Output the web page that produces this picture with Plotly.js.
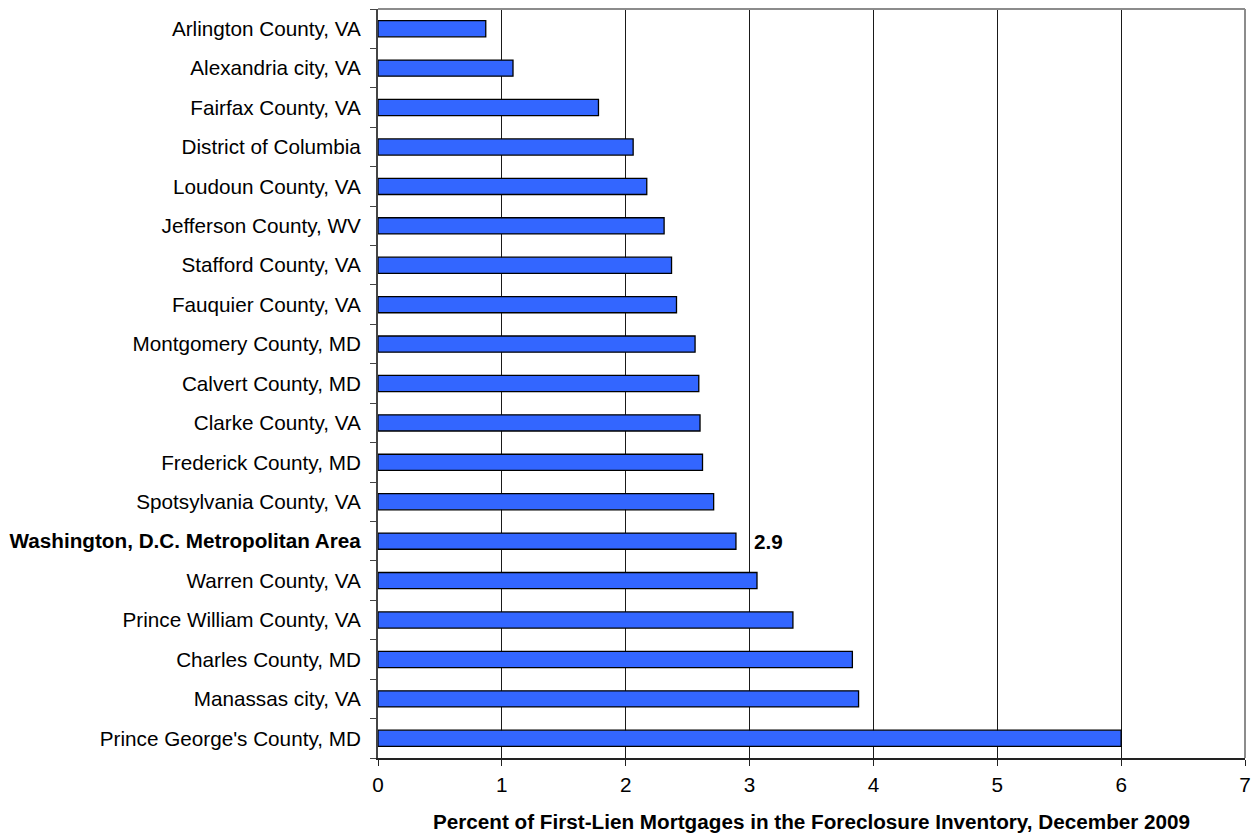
<!DOCTYPE html>
<html>
<head>
<meta charset="utf-8">
<script src="https://cdn.plot.ly/plotly-3.0.1.min.js"></script>
<style>html,body{margin:0;padding:0;background:#fff;}#chart{width:1259px;height:833px;}</style>
</head>
<body>
<div id="chart"></div>
<script>
const categories = [
  "Arlington County, VA",
  "Alexandria city, VA",
  "Fairfax County, VA",
  "District of Columbia",
  "Loudoun County, VA",
  "Jefferson County, WV",
  "Stafford County, VA",
  "Fauquier County, VA",
  "Montgomery County, MD",
  "Calvert County, MD",
  "Clarke County, VA",
  "Frederick County, MD",
  "Spotsylvania County, VA",
  "Washington, D.C. Metropolitan Area",
  "Warren County, VA",
  "Prince William County, VA",
  "Charles County, MD",
  "Manassas city, VA",
  "Prince George's County, MD"
];
const values = [0.87, 1.09, 1.78, 2.06, 2.17, 2.31, 2.37, 2.41, 2.56, 2.59, 2.60, 2.62, 2.71, 2.89, 3.06, 3.35, 3.83, 3.88, 6.0];
const highlightName = "Washington, D.C. Metropolitan Area";
const highlightLabel = "2.9";
const xTicks = [0, 1, 2, 3, 4, 5, 6, 7];
const xTitle = "Percent of First-Lien Mortgages in the Foreclosure Inventory, December 2009";

const tickText = categories.map(c => c === highlightName ? "<b>" + c + "</b>" : c);
const hIdx = categories.indexOf(highlightName);
const FS = 20.7;

const trace = {
  type: "bar",
  orientation: "h",
  x: values,
  y: categories,
  width: 0.41,
  marker: {color: "#3366FF", line: {color: "#000000", width: 1.3}},
  hoverinfo: "x+y"
};

const layout = {
  width: 1259,
  height: 833,
  margin: {l: 378, r: 14, t: 9, b: 75},
  paper_bgcolor: "#ffffff",
  plot_bgcolor: "#ffffff",
  showlegend: false,
  font: {family: "Liberation Sans, Arial, sans-serif", size: FS, color: "#000"},
  xaxis: {
    range: [0, 7],
    tickvals: xTicks,
    ticktext: xTicks.map(String),
    showgrid: true,
    gridcolor: "#1a1a1a",
    gridwidth: 1,
    zeroline: false,
    showline: true,
    linecolor: "#222",
    linewidth: 1.5,
    ticks: "outside",
    ticklen: 6,
    tickcolor: "#222",
    tickfont: {size: FS, color: "#000"},
    ticklabelstandoff: 2,
    title: {text: "<b>" + xTitle + "</b>", font: {size: FS, color: "#000"}, standoff: 20},
    fixedrange: true
  },
  yaxis: {
    type: "category",
    categoryorder: "array",
    categoryarray: categories,
    tickvals: categories,
    ticktext: tickText,
    autorange: "reversed",
    tickson: "boundaries",
    ticks: "outside",
    ticklen: 6,
    tickcolor: "#444",
    showline: true,
    linecolor: "#444",
    linewidth: 2,
    showgrid: false,
    zeroline: false,
    tickfont: {size: FS, color: "#000"},
    ticklabelstandoff: 11,
    fixedrange: true
  },
  shapes: [
    {type: "line", xref: "paper", yref: "paper", x0: 0, x1: 1, y0: 1, y1: 1, line: {color: "#8c8c8c", width: 2}},
    {type: "line", xref: "paper", yref: "paper", x0: 1, x1: 1, y0: 0, y1: 1, line: {color: "#8c8c8c", width: 2}}
  ],
  annotations: [
    {x: values[hIdx], y: categories[hIdx], xref: "x", yref: "y", text: "<b>" + highlightLabel + "</b>",
     showarrow: false, xanchor: "left", yanchor: "middle", xshift: 16, font: {size: FS, color: "#000"}}
  ]
};

Plotly.newPlot("chart", [trace], layout, {displayModeBar: false, staticPlot: true});
</script>
</body>
</html>
